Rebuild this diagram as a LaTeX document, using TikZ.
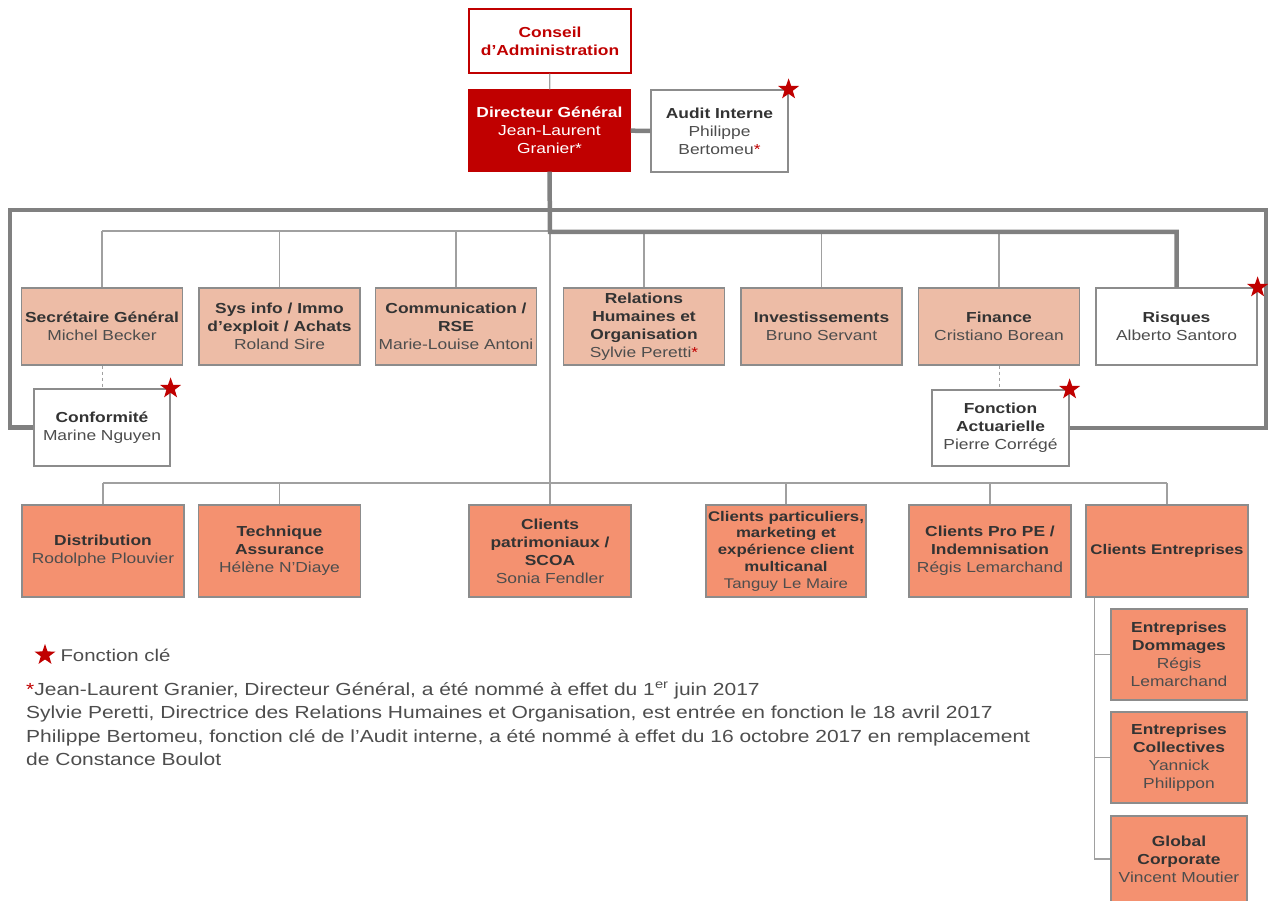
\documentclass[tikz,border=0pt]{standalone}
\usepackage{fontspec}
\setmainfont{Liberation Sans}[FakeStretch=1.2]
\usepackage{xcolor}
\usetikzlibrary{positioning, shapes.geometric}

\definecolor{cardred}{RGB}{192,0,0}
\definecolor{peach}{RGB}{237,188,166}
\definecolor{salmon}{RGB}{244,145,112}
\definecolor{linegray}{RGB}{128,128,128}
\definecolor{thingray}{RGB}{160,160,160}
\definecolor{boxgray}{RGB}{140,140,140}
\definecolor{txtdark}{RGB}{51,51,51}
\definecolor{txtname}{RGB}{77,77,77}

\hyphenpenalty=10000
\newcommand{\role}[2]{{\bfseries #1}\\{\color{txtname}#2}}

\begin{document}
\begin{tikzpicture}[x=1pt, y=-1pt,
    box/.style={draw=boxgray, line width=1.2pt, align=center, inner sep=2pt,
      text=txtdark, font=\fontsize{14.5}{18}\selectfont},
    topbox/.style={box, fill=peach, minimum width=161, minimum height=77, text width=156},
    lowbox/.style={box, fill=salmon, minimum width=162, minimum height=92, text width=157},
    subbox/.style={box, fill=salmon, minimum width=136, minimum height=91, text width=131},
    whitebox/.style={box, fill=white},
    keystar/.style={star, star points=5, star point ratio=2.5, fill=cardred,
      draw=none, minimum size=22, inner sep=0pt},
    thinline/.style={draw=thingray, line width=1.2pt},
    thickline/.style={draw=linegray, line width=4.5pt},
    dashline/.style={draw=thingray, line width=1pt, dashed}]
  \useasboundingbox (0,0) rectangle (1268,901);

  % Top of the chart
  \node[box, draw=cardred, text=cardred, fill=white, minimum width=162,
    minimum height=64, text width=156] (conseil) at (550,41)
    {\bfseries Conseil\\d’Administration};
  \node[box, draw=cardred, fill=cardred, text=white, minimum width=161,
    minimum height=81, text width=156] (dg) at (549.5,130.5)
    {{\bfseries Directeur Général}\\Jean-Laurent\\Granier*};
  \node[whitebox, minimum width=137, minimum height=82, text width=131] (audit) at (719.5,131)
    {{\bfseries Audit Interne}\\{\color{txtname}Philippe\\Bertomeu}\textcolor{cardred}{*}};

  % Directions
  \node[topbox] (sg) at (102,326.5) {\role{Secrétaire Général}{Michel Becker}};
  \node[topbox] (sys) at (279.5,326.5) {\role{Sys info / Immo\\d’exploit / Achats}{Roland Sire}};
  \node[topbox] (com) at (456,326.5) {\role{Communication /\\RSE}{Marie-Louise Antoni}};
  \node[topbox] (rh) at (644,326.5)
    {\role{Relations\\Humaines et\\Organisation}{Sylvie Peretti}\textcolor{cardred}{*}};
  \node[topbox] (inv) at (821.5,326.5) {\role{Investissements}{Bruno Servant}};
  \node[topbox] (fin) at (999,326.5) {\role{Finance}{Cristiano Borean}};
  \node[topbox, fill=white] (risk) at (1176.5,326.5) {\role{Risques}{Alberto Santoro}};

  % Fonctions cles
  \node[whitebox, minimum width=136, minimum height=77, text width=131] (conf) at (102,427.5)
    {\role{Conformité}{Marine Nguyen}};
  \node[whitebox, minimum width=137, minimum height=76, text width=131] (actu) at (1000.5,428)
    {\role{Fonction\\Actuarielle}{Pierre Corrégé}};

  % Metiers
  \node[lowbox] (dist) at (103,551) {\role{Distribution}{Rodolphe Plouvier}};
  \node[lowbox] (tech) at (279.5,551) {\role{Technique\\Assurance}{Hélène N’Diaye}};
  \node[lowbox] (patr) at (550,551) {\role{Clients\\patrimoniaux /\\SCOA}{Sonia Fendler}};
  \node[lowbox, minimum width=160, text width=159, inner sep=0.5pt,
    font=\fontsize{14}{16.8}\selectfont] (part) at (786,551)
    {\role{Clients particuliers,\\marketing et\\expérience client\\multicanal}{Tanguy Le Maire}};
  \node[lowbox] (pro) at (990,551) {\role{Clients Pro PE /\\Indemnisation}{Régis Lemarchand}};
  \node[lowbox, text width=161, inner sep=0.5pt,
    font=\fontsize{14}{17}\selectfont] (entr) at (1167,551)
    {{\bfseries Clients Entreprises}};

  % Clients Entreprises
  \node[subbox] (dom) at (1179,654.5) {\role{Entreprises\\Dommages}{Régis\\Lemarchand}};
  \node[subbox] (coll) at (1179,757.5) {\role{Entreprises\\Collectives}{Yannick\\Philippon}};
  \node[subbox, minimum height=86] (glob) at (1179,859) {\role{Global\\Corporate}{Vincent Moutier}};

  % Thin links
  \coordinate (busA) at (550,231);
  \coordinate (busB) at (550,483);
  \draw[thinline] (conseil) -- (dg);
  \draw[thinline] (busA -| sg.north) -- (busA -| fin.north);
  \foreach \n in {sg,sys,com,rh,inv,fin}
    \draw[thinline] (busA -| \n.north) -- (\n.north);
  \draw[thinline] (busA) -- (busB);
  \draw[thinline] (busB -| dist.north) -- (busB -| entr.north);
  \foreach \n in {dist,tech,patr,part,pro,entr}
    \draw[thinline] (busB -| \n.north) -- (\n.north);
  \coordinate (stem) at ([xshift=9]entr.south west);
  \draw[thinline] (stem) |- (glob.west);
  \draw[thinline] (stem |- dom.west) -- (dom.west);
  \draw[thinline] (stem |- coll.west) -- (coll.west);

  % Dashed links
  \draw[dashline] (sg) -- (conf);
  \draw[dashline] (fin.south) -- (fin.south |- actu.north);

  % Thick links
  \coordinate (loopL) at (10,210);
  \coordinate (loopR) at (1266,210);
  \draw[thickline] (dg) -- (audit);
  \draw[thickline] (dg.south) -- ([yshift=-1]busA) -| (risk.north);
  \draw[thickline] (conf.west) -| (loopL) -- (loopR) |- (actu.east);

  % Stars
  \node[keystar] (staraudit) at (audit.north east) {};
  \node[keystar] (starconf) at (conf.north east) {};
  \node[keystar] (starrisk) at (risk.north east) {};
  \node[keystar] (staractu) at (actu.north east) {};

  % Legend and notes
  \node[keystar] (legstar) at (45,655) {};
  \node[right=9pt of legstar, inner sep=0pt, text=txtname,
    font=\fontsize{17}{20}\selectfont] (legtxt) {Fonction clé};
  \node[anchor=north west, text width=1004, align=justify, inner sep=0pt, text=txtname,
    font=\fontsize{17.5}{23.5}\selectfont] (notes) at (26,682)
    {\textcolor{cardred}{*}Jean-Laurent Granier, Directeur Général, a été nommé à effet du 1\textsuperscript{er} juin 2017\par
     Sylvie Peretti, Directrice des Relations Humaines et Organisation, est entrée en fonction le 18 avril 2017\par
     Philippe Bertomeu, fonction clé de l’Audit interne, a été nommé à effet du 16 octobre 2017 en remplacement\linebreak
     de Constance Boulot};
\end{tikzpicture}
\end{document}
